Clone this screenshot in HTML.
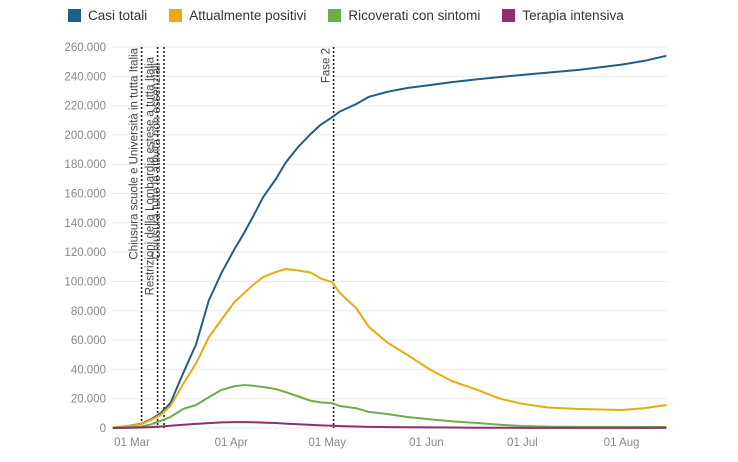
<!DOCTYPE html>
<html><head><meta charset="utf-8"><style>
body{margin:0;background:#fff;width:738px;height:462px;overflow:hidden;font-family:"Liberation Sans",sans-serif}
.legend{position:absolute;top:8px;left:68px;display:flex;gap:22px;font-size:13.5px;color:#333}
.li{display:flex;align-items:center;gap:7px}
.sw{width:13px;height:13px;display:inline-block}
</style></head><body>
<div class="legend">
<div class="li"><span class="sw" style="background:#1f5f87"></span>Casi totali</div>
<div class="li"><span class="sw" style="background:#e8aa0e"></span>Attualmente positivi</div>
<div class="li"><span class="sw" style="background:#6eae4a"></span>Ricoverati con sintomi</div>
<div class="li"><span class="sw" style="background:#8e2f6e"></span>Terapia intensiva</div>
</div>
<svg id="chart" width="738" height="462" style="position:absolute;left:0;top:0"></svg>
<script>
const days   = [-6,-2,3,6,9,12,16,20,24,28,32,35,38,41,45,48,52,56,59,62.5,65,70,74,80,86,93,100,108,115,122,130,140,153,160,167];
const casi   = [300,1100,3000,6000,10200,17000,37500,57000,87000,106000,122000,133000,145000,157600,170000,181000,192000,201000,207000,212000,216000,221000,226000,229500,232000,234000,236000,238000,239500,241000,242500,244500,248000,250500,254000];
const positivi=[300,1000,2800,5500,9000,15000,30000,44000,62000,74000,86000,92000,98000,103000,106500,108500,107500,106000,102000,99600,92000,82000,69000,58000,50000,40000,32000,26000,20000,16500,14000,13000,12300,13500,15700];
const ricoverati=[100,400,1000,2500,5000,7500,13000,15700,21000,26000,28500,29300,28800,28000,26500,24500,21500,18500,17500,17000,15000,13500,11000,9500,7500,6000,4500,3400,2200,1400,900,800,750,720,700];
const terapia=[20,100,300,600,1000,1500,2200,2800,3300,3800,4000,4000,3900,3700,3400,3000,2600,2100,1800,1500,1300,1000,800,600,500,400,300,200,150,100,80,60,50,45,45];
const yTicks=[0,20000,40000,60000,80000,100000,120000,140000,160000,180000,200000,220000,240000,260000];
const xTickDays=[0,31,61,92,122,153];
const xTickLabels=["01 Mar","01 Apr","01 May","01 Jun","01 Jul","01 Aug"];
const evDays=[3,8,10,63];
const evLabels=["Chiusura scuole e Università in tutta Italia","Restrizioni della Lombardia estese a tutta Italia","Chiusura tutte le attività non essenziali","Fase 2"];
const evTop=[48,57,63,48];
const NS="http://www.w3.org/2000/svg",svg=document.getElementById('chart');
const X=d=>132+d*3.2, Y=v=>428-v/260000*381;
function mk(t,a,p){const e=document.createElementNS(NS,t);for(const k in a)e.setAttribute(k,a[k]);(p||svg).appendChild(e);return e;}
yTicks.forEach((v,i)=>{
 const g=mk('line',{x1:112,x2:667,y1:Y(v),y2:Y(v),stroke:'#ebebeb','stroke-width':1});
 
 
 const t=mk('text',{x:106,y:Y(v)+4,'text-anchor':'end','font-size':11.5,fill:'#888'});
 t.textContent=v===0?'0':v.toLocaleString('de-DE');
 
 
});
xTickDays.forEach((d,i)=>{
 const t=mk('text',{x:X(d),y:446,'text-anchor':'middle','font-size':11.5,fill:'#888'});
 t.textContent=xTickLabels[i];
 
 
});
evDays.forEach((d,i)=>{
 const l=mk('line',{x1:X(d),x2:X(d),y1:47,y2:428,stroke:'#222','stroke-width':1.6,'stroke-dasharray':'2,2'});
 
 
 const x=X(d)-4, y=evTop[i];
 const t=mk('text',{x:x,y:y,'text-anchor':'end','font-size':11.5,fill:'#444',transform:`rotate(-90 ${x} ${y})`});
 t.textContent=evLabels[i];
 
 
});
[[casi,'#1f5f87','line-casi-totali'],[positivi,'#e8aa0e','line-attualmente-positivi'],[ricoverati,'#6eae4a','line-ricoverati'],[terapia,'#8e2f6e','line-terapia-intensiva']].forEach(([s,c,n])=>{
 const p=mk('polyline',{points:s.map((v,i)=>X(days[i])+','+Y(v)).join(' '),fill:'none',stroke:c,'stroke-width':2,'stroke-linejoin':'round'});
 
 
});
</script>
</body></html>
